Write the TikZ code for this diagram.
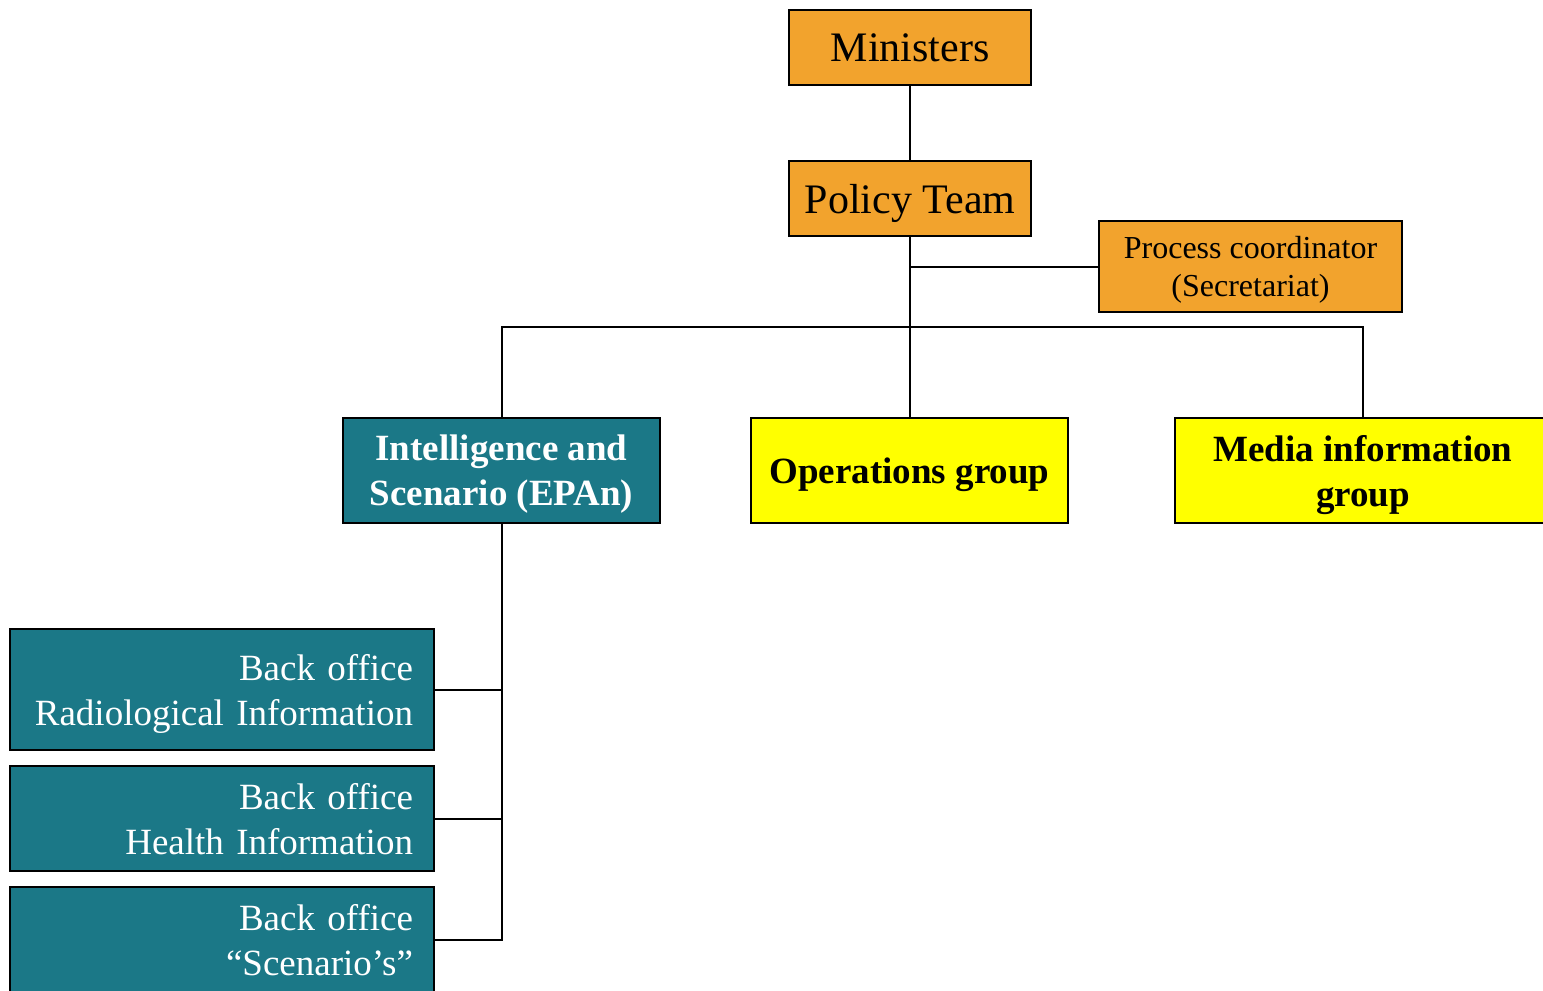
\documentclass[tikz,border=0pt]{standalone}
\usepackage{fontspec}
\setmainfont{Liberation Serif}
\definecolor{orgbox}{RGB}{242,163,45}
\definecolor{tealbox}{RGB}{27,120,135}
\definecolor{yelbox}{RGB}{255,255,0}
\begin{document}
\begin{tikzpicture}[x=1pt,y=-1pt,
  box/.style={draw=black,line width=2pt,rectangle,inner sep=0pt,align=center,text depth=0pt},
  orange/.style={box,fill=orgbox,text=black},
  tealb/.style={box,fill=tealbox,text=white,font=\bfseries\fontsize{37}{45}\selectfont},
  yellowb/.style={box,fill=yelbox,text=black,font=\bfseries\fontsize{37}{45}\selectfont},
  backoffice/.style={draw=black,line width=2pt,rectangle,fill=tealbox,text=white,
    align=right,inner xsep=21pt,inner ysep=0pt,text width=382pt,minimum width=424pt,
    text depth=45pt,font=\fontsize{37}{45}\selectfont},
  conn/.style={draw=black,line width=2pt}]
\useasboundingbox (0,0) rectangle (1543,991);
\clip (0,0) rectangle (1543,991);
\fill[white] (0,0) rectangle (1543,991);

\node[orange,minimum width=242pt,minimum height=75pt,font=\fontsize{42}{50}\selectfont] (min) at (910,47.5) {Ministers};
\node[orange,minimum width=242pt,minimum height=75pt,font=\fontsize{42}{50}\selectfont] (pol) at (910,198.5) {Policy Team};
\node[orange,minimum width=303pt,minimum height=91pt,font=\fontsize{32}{38}\selectfont] (proc) at (1250.5,266.5) {Process coordinator\\(Secretariat)};

\node[tealb,minimum width=317pt,minimum height=105pt] (intel) at (501.5,470.5) {Intelligence and\\Scenario (EPAn)};
\node[yellowb,minimum width=317pt,minimum height=105pt] (ops) at (909.5,470.5) {Operations group};
\node[yellowb,minimum width=376pt,minimum height=105pt] (media) at (1363,470.5) {Media information\\group};

\node[backoffice,minimum height=121pt] (bo1) at (222,689.5) {Back office\\Radiological Information};
\node[backoffice,minimum height=105pt] (bo2) at (222,818.5) {Back office\\Health Information};
\node[backoffice,minimum height=105pt] (bo3) at (222,939.5) {Back office\\``Scenario’s''};

\coordinate (bus) at (910,327);

\draw[conn] (min.south) -- (pol.north);
\draw[conn] (pol.south) -- (pol.south |- ops.north);
\draw[conn] (proc.west) -- (proc.west -| pol.south);
\draw[conn] (intel.north) |- (bus) -| (media.north);
\draw[conn] (intel.south) |- (bo3.east);
\draw[conn] (bo1.east) -- (bo1.east -| intel.south);
\draw[conn] (bo2.east) -- (bo2.east -| intel.south);
\end{tikzpicture}
\end{document}
